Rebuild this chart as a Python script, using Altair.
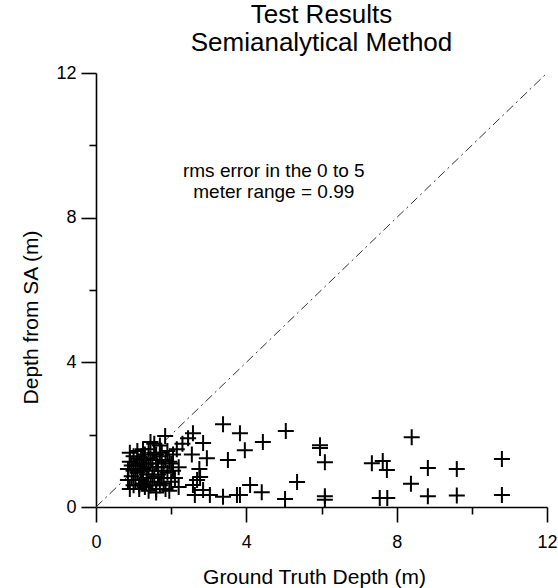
import altair as alt
import pandas as pd

# Ground truth depth (m) and depth from SA (m)
cluster_x = [0.85, 0.9, 0.95, 1.0, 1.0, 1.05, 1.1, 1.1, 1.15, 1.2,
             1.2, 1.25, 1.3, 1.3, 1.35, 1.35, 1.4, 1.4, 1.45, 1.5,
             1.5, 1.55, 1.6, 1.6, 1.65, 1.7, 1.7, 1.75, 1.8, 1.85,
             1.9, 1.9, 1.95, 2.0, 2.05, 2.1, 2.15, 2.2, 2.2, 0.85,
             0.9, 1.0, 1.05, 1.15, 1.2, 1.25, 1.3, 1.4, 1.45, 1.5,
             1.55, 1.6, 1.65, 1.7, 1.75, 1.8, 1.85, 1.95, 2.0, 1.1,
             0.95, 1.35, 1.25, 1.55, 1.45, 1.75, 2.05, 1.15, 0.9, 1.6]
cluster_y = [1.05, 1.25, 0.85, 1.4, 0.6, 1.15, 0.95, 1.55, 0.5, 1.3,
             0.75, 1.05, 1.45, 0.55, 1.2, 0.9, 1.6, 0.45, 1.35, 1.0,
             0.7, 1.5, 1.2, 0.5, 0.9, 1.4, 1.7, 1.1, 0.65, 1.3,
             1.55, 0.95, 0.45, 1.2, 1.45, 0.8, 1.6, 1.1, 0.55, 0.75,
             1.5, 1.0, 0.75, 1.2, 1.0, 0.65, 1.3, 1.1, 0.6, 1.3,
             0.85, 1.45, 1.1, 0.6, 1.5, 1.0, 0.5, 1.25, 0.7, 1.35,
             1.15, 0.8, 1.6, 1.75, 1.8, 0.8, 1.0, 0.6, 0.5, 0.4]

outer_x = [3.38, 1.84, 2.58, 2.85, 3.51, 2.95, 2.69, 2.85,
           3.83, 3.96, 4.44, 5.05, 5.96, 5.96, 6.09, 7.34, 7.63, 7.74,
           5.35, 4.10, 4.41, 3.83, 6.09, 6.09, 5.03, 7.55, 7.75,
           8.40, 8.83, 9.60, 10.80, 8.38, 8.83, 9.60, 10.80,
           2.63, 3.03, 3.38, 3.75, 2.77, 2.58, 2.75, 2.55, 2.3, 2.45]
outer_y = [2.29, 1.96, 2.04, 1.77, 1.30, 1.35, 0.75, 0.47,
           2.04, 1.57, 1.80, 2.10, 1.71, 1.63, 1.24, 1.21, 1.27, 1.02,
           0.69, 0.61, 0.41, 0.33, 0.30, 0.20, 0.22, 0.25, 0.25,
           1.93, 1.08, 1.05, 1.33, 0.64, 0.30, 0.32, 0.33,
           0.33, 0.33, 0.28, 0.33, 0.83, 0.61, 1.05, 1.45, 1.75, 1.9]

line_x = [0, 12]
line_y = [0, 12]

note_lines = ["rms error in the 0 to 5", "meter range = 0.99"]
note_x = [4.73, 4.73]
note_y = [9.3, 8.7]

pts = pd.DataFrame({"gt": cluster_x + outer_x, "sa": cluster_y + outer_y})
diag = pd.DataFrame({"gt": line_x, "sa": line_y})
notes = pd.DataFrame({"gt": note_x, "sa": note_y, "t": note_lines})

FONT = "Liberation Sans"
xs = alt.Scale(domain=[0, 12], nice=False, zero=False)
ys = alt.Scale(domain=[0, 12], nice=False, zero=False)

tick_cond = {"condition": {"test": "datum.value % 4 === 0", "value": 15}, "value": 7}

x_axis = alt.Axis(
    values=[0, 2, 4, 6, 8, 10, 12], labelExpr="datum.value % 4 === 0 ? datum.label : ''",
    grid=False, domainColor="black", domainWidth=1.6, tickColor="black", tickWidth=1.6,
    tickSize=tick_cond, labelFont=FONT, labelFontSize=18, labelColor="black", labelPadding=11,
    labelFlush=False, title="Ground Truth Depth (m)", titleFont=FONT, titleFontSize=21,
    titleFontWeight="normal", titleColor="black", titleX=218, titleY=70,
    titleBaseline="middle", titleAlign="center",
)
y_axis = alt.Axis(
    values=[0, 2, 4, 6, 8, 10, 12], labelExpr="datum.value % 4 === 0 ? datum.label : ''",
    grid=False, domainColor="black", domainWidth=1.6, tickColor="black", tickWidth=1.6,
    tickSize=tick_cond, labelFont=FONT, labelFontSize=18, labelColor="black", labelPadding=5,
    labelFlush=False, title="Depth from SA (m)", titleFont=FONT, titleFontSize=21,
    titleFontWeight="normal", titleColor="black", titleX=-65, titleY=244, titleAngle=-90,
    titleBaseline="middle", titleAlign="center",
)

cross = "M-1,0L1,0M0,-1L0,1"

points = alt.Chart(pts).mark_point(
    shape=cross, size=256, filled=False, stroke="black", strokeWidth=2, opacity=1
).encode(
    x=alt.X("gt:Q", scale=xs, axis=x_axis),
    y=alt.Y("sa:Q", scale=ys, axis=y_axis),
)

diag_line = alt.Chart(diag).mark_line(
    color="#333333", strokeWidth=1, strokeDash=[9, 4, 2, 4]
).encode(x=alt.X("gt:Q", scale=xs), y=alt.Y("sa:Q", scale=ys))

note = alt.Chart(notes).mark_text(
    font=FONT, fontSize=19, color="black", align="center", baseline="middle"
).encode(x=alt.X("gt:Q", scale=xs), y=alt.Y("sa:Q", scale=ys), text="t:N")

chart = alt.layer(diag_line, points, note).properties(
    width=451, height=434,
    autosize=alt.AutoSizeParams(type="none"),
    padding={"left": 96, "top": 73, "right": 11, "bottom": 81},
    title=alt.TitleParams(
        text=["Test Results", "Semianalytical Method"], font=FONT, fontSize=26,
        fontWeight="normal", color="black", anchor="middle", lineHeight=28, offset=8,
    ),
    background="white",
).configure_view(stroke=None)

chart.save("out.html", embed_options={"renderer": "svg", "actions": False})
